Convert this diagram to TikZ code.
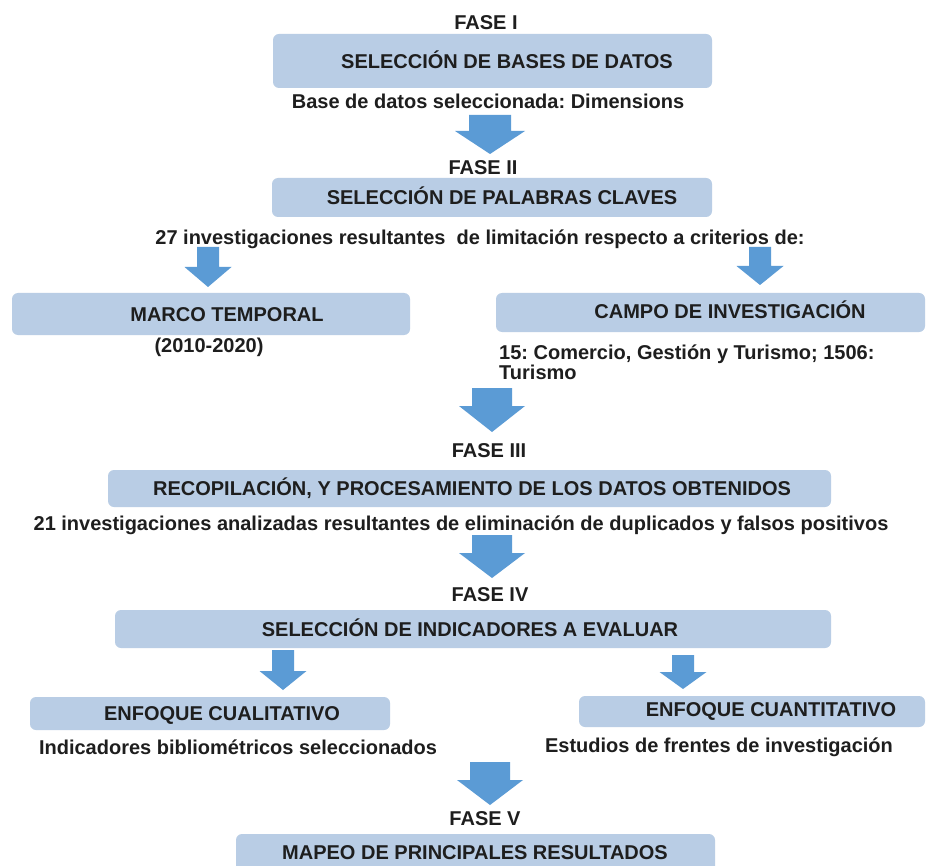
\documentclass[tikz,border=0pt]{standalone}
\usepackage{fontspec}
\setmainfont{Liberation Sans}
\frenchspacing
\definecolor{boxblue}{HTML}{B9CDE5}
\definecolor{arrowblue}{HTML}{5B9BD5}
\definecolor{txt}{HTML}{1E1E1E}
\newcommand\fatarrow[6]{% x, top, headstart, tip, shaft, head
  \fill[arrowblue] ({#1-#5/2},#2) -- ({#1+#5/2},#2) -- ({#1+#5/2},#3) -- ({#1+#6/2},#3)
    -- (#1,#4) -- ({#1-#6/2},#3) -- ({#1-#5/2},#3) -- cycle;}
\begin{document}
\begin{tikzpicture}[x=1pt,y=-1pt,
  lbl/.style={font=\bfseries\fontsize{20}{20}\selectfont, text=txt, inner sep=0pt, anchor=base},
  box/.style={fill=boxblue, rounded corners=6pt, inner sep=0pt}]
\useasboundingbox (0,0) rectangle (928,866);
\clip (0,0) rectangle (928,866);
\fill[white] (0,0) rectangle (928,866);
% boxes
\path[box] (273,34) rectangle (712,88);
\path[box] (272,178) rectangle (712,217);
\path[box] (12,293) rectangle (410,335);
\path[box] (496,293) rectangle (925,332);
\path[box] (108,470) rectangle (831,507);
\path[box] (115,610) rectangle (831,648);
\path[box] (30,697) rectangle (390,730);
\path[box] (579,696) rectangle (925,727);
\path[box] (236,834) rectangle (715,880);
% arrows
\fatarrow{490}{115}{131}{154}{42}{70}
\fatarrow{208}{247}{267}{287}{22}{47}
\fatarrow{760}{247}{266}{285}{22}{47}
\fatarrow{492}{388}{406}{432}{40}{66}
\fatarrow{492}{535}{553}{578}{40}{66}
\fatarrow{283}{650}{671}{690}{22}{47}
\fatarrow{683}{655}{672}{689}{22}{47}
\fatarrow{490}{762}{780}{805}{40}{66}
% texts
\node[lbl] (f1) at (486,30) {FASE I};
\node[lbl] (t1) at (507,69) {SELECCIÓN DE BASES DE DATOS};
\node[lbl] (s1) at (488,109) {Base de datos seleccionada: Dimensions};
\node[lbl] (f2) at (483,175) {FASE II};
\node[lbl] (t2) at (502,205) {SELECCIÓN DE PALABRAS CLAVES};
\node[lbl] (s2) at (480,245) {27 investigaciones resultantes\ \ de limitación respecto a criterios de:};
\node[lbl] (tm) at (227,321) {MARCO TEMPORAL};
\node[lbl] (tc) at (730,319) {CAMPO DE INVESTIGACIÓN};
\node[lbl] (sm) at (209,352) {(2010-2020)};
\node[lbl, anchor=base west] (sc1) at (499,359) {15: Comercio, Gestión y Turismo; 1506:};
\node[lbl, anchor=base west] (sc2) at (499,379) {Turismo};
\node[lbl] (f3) at (489,457) {FASE III};
\node[lbl] (t3) at (472,495) {RECOPILACIÓN, Y PROCESAMIENTO DE LOS DATOS OBTENIDOS};
\node[lbl] (s3) at (461,530) {21 investigaciones analizadas resultantes de eliminación de duplicados y falsos positivos};
\node[lbl] (f4) at (490,601) {FASE IV};
\node[lbl] (t4) at (470,636) {SELECCIÓN DE INDICADORES A EVALUAR};
\node[lbl] (tq) at (222,720) {ENFOQUE CUALITATIVO};
\node[lbl] (tn) at (771,716) {ENFOQUE CUANTITATIVO};
\node[lbl] (sq) at (238,754) {Indicadores bibliométricos seleccionados};
\node[lbl] (sn) at (719,752) {Estudios de frentes de investigación};
\node[lbl] (f5) at (485,825) {FASE V};
\node[lbl] (t5) at (475,859) {MAPEO DE PRINCIPALES RESULTADOS};
\end{tikzpicture}
\end{document}
